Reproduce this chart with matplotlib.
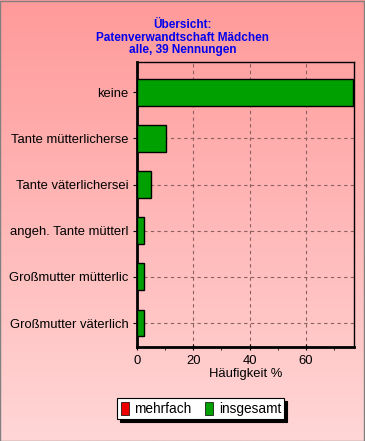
import numpy as np
import matplotlib
matplotlib.use("Agg")
import matplotlib.pyplot as plt
from matplotlib.patches import Patch, Rectangle

# data
categories = ["keine", "Tante mütterlicherse", "Tante väterlichersei",
              "angeh. Tante mütterl", "Großmutter mütterlic", "Großmutter väterlich"]
insgesamt = [76.9, 10.3, 5.1, 2.6, 2.6, 2.6]
mehrfach = [0, 0, 0, 0, 0, 0]
x_ticks = [0, 20, 40, 60]

plt.rcParams['font.family'] = ['Liberation Sans', 'DejaVu Sans']

fig = plt.figure(figsize=(3.65, 4.41), dpi=100)

# pink gradient background
bg = fig.add_axes([0, 0, 1, 1], zorder=-10)
grad = np.linspace(0, 1, 256).reshape(-1, 1)
cmap = matplotlib.colors.LinearSegmentedColormap.from_list("bg", ["#ff9a9a", "#ffd6d6"])
bg.imshow(grad, aspect='auto', cmap=cmap, extent=[0, 1, 0, 1])
bg.add_patch(Rectangle((0.001, 0.001), 0.997, 0.997, fill=False, edgecolor='#808080', lw=1,
                       transform=bg.transAxes))
bg.set_axis_off()

ax = fig.add_axes([0.375, 0.213, 0.595, 0.646])
ax.set_facecolor('none')
y = np.arange(len(categories))
ax.barh(y, mehrfach, height=0.58, color='#ee0000', linewidth=0, zorder=3)
ax.barh(y, insgesamt, height=0.58, color='#00a000', edgecolor='black', linewidth=1, zorder=3)

ax.set_xlim(0, 77.1)
ax.set_ylim(5.52, -0.65)
ax.set_yticks(y)
ax.set_yticklabels(categories, fontsize=9.4)
ax.set_xticks(x_ticks)
ax.set_xticks(np.arange(0, 77, 10), minor=True)
ax.tick_params(axis='x', labelsize=9.4, length=4, direction='inout')
ax.tick_params(axis='x', which='minor', length=2)
ax.tick_params(axis='y', length=3, pad=3)
ax.grid(True, linestyle=(0, (3, 3)), color='#8c6060', linewidth=0.8, zorder=1)
for s in ax.spines.values():
    s.set_color('black')
    s.set_linewidth(1)
ax.spines['bottom'].set_linewidth(2)
ax.spines['left'].set_linewidth(2)
ax.set_xlabel("Häufigkeit %", fontsize=9.4, labelpad=1)

fig.text(0.5, 0.914, "Übersicht:\nPatenverwandtschaft Mädchen\nalle, 39 Nennungen",
         ha='center', va='center', color='#0000ee', fontsize=8.5, fontweight='bold',
         linespacing=1.05)

handles = [Patch(facecolor='#ee0000', edgecolor='black', lw=0.5),
           Patch(facecolor='#00a000', edgecolor='black', lw=0.5)]
leg = fig.legend(handles, ["mehrfach", "insgesamt"], loc='center', ncol=2,
                 bbox_to_anchor=(0.55, 0.073), fontsize=9.8, frameon=True, fancybox=False,
                 shadow={'color': 'black', 'alpha': 1}, handlelength=0.6, handleheight=1.1,
                 handletextpad=0.4, columnspacing=1.0, borderpad=0.25, borderaxespad=0,
                 edgecolor='black')
leg.get_frame().set_linewidth(0.8)

fig.savefig("out.png", dpi=100)
